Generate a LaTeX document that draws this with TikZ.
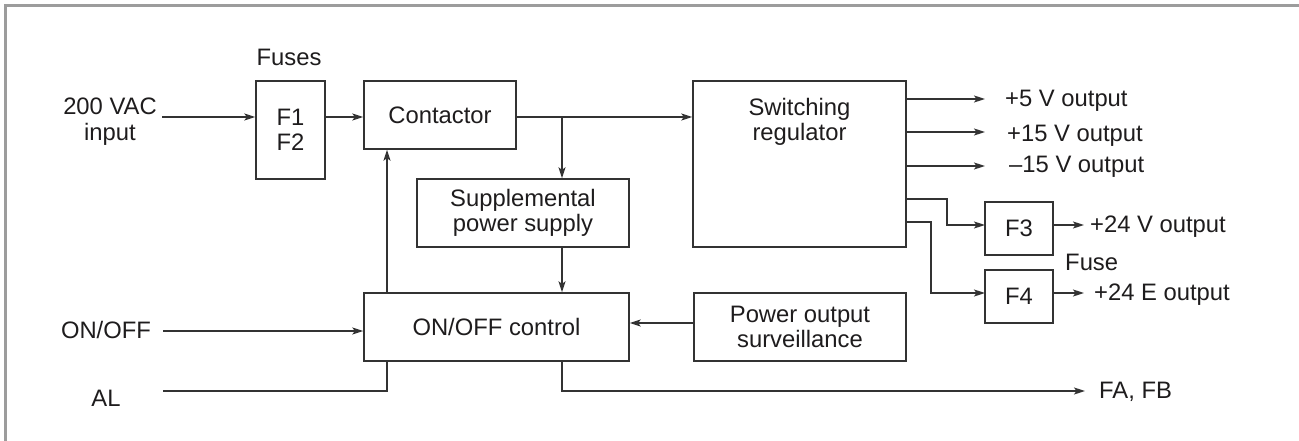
\documentclass[tikz,border=0pt]{standalone}
\usepackage{fontspec}
\setmainfont{Liberation Sans}
\usetikzlibrary{arrows.meta}
\definecolor{ln}{HTML}{333333}
\definecolor{tx}{HTML}{1E1C1D}
\definecolor{fr}{HTML}{9C9C9C}
\begin{document}
\begin{tikzpicture}[x=1pt,y=-1pt,
  every node/.style={font=\fontsize{23.8}{25.5}\selectfont, text=tx, inner sep=0pt},
  blk/.style 2 args={draw=ln, line width=1.4pt, align=center, minimum width=#1, minimum height=#2},
  conn/.style={draw=ln, line width=1.4pt},
  arr/.style={conn, -{Stealth[length=11pt,width=7pt,inset=2.5pt]}}]
\useasboundingbox (0,0) rectangle (1299,441);
\draw[fr, line width=2.5pt] (5.5,441) -- (5.5,5.5) -- (1299,5.5);

% blocks
\node[blk={69pt}{98pt}] (fz) at (290.5,130) {F1\\F2};
\node[blk={152pt}{68pt}] (ct) at (440,115) {Contactor};
\node[blk={212pt}{68pt}] (sp) at (523,213) {Supplemental\\power supply};
\node[blk={213pt}{166pt}] (rg) at (799.5,164) {};
\node[anchor=north, align=center] (rgt) at (799.5,98) {Switching\\regulator};
\node[blk={265pt}{68pt}] (oc) at (496.5,327) {ON/OFF control};
\node[blk={212pt}{68pt}] (po) at (800,327) {Power output\\surveillance};
\node[blk={68pt}{53pt}] (f3) at (1019,228.5) {F3};
\node[blk={68pt}{53pt}] (f4) at (1019,296.5) {F4};

% labels
\node[anchor=base] (fusesl) at (289,66) {Fuses};
\node[anchor=north, align=center] (inl) at (110,98) {200 VAC\\input};
\node[anchor=base] (onl) at (106,338) {ON/OFF};
\node[anchor=base] (all) at (106,406) {AL};
\node[anchor=base west] (o5) at (1005,107) {+5 V output};
\node[anchor=base west] (o15) at (1007,142) {+15 V output};
\node[anchor=base west] (om15) at (1009,172) {–15 V output};
\node[anchor=base west] (o24) at (1090,232) {+24 V output};
\node[anchor=base west] (fusel) at (1065,270) {Fuse};
\node[anchor=base west] (o24e) at (1094,300) {+24 E output};
\node[anchor=base west] (fafb) at (1099,398) {FA, FB};

% connectors
\coordinate (inS) at (162,117);
\coordinate (br) at (562,117);
\coordinate (cx) at (387,149);
\coordinate (onS) at (163,331);
\coordinate (alS) at (163,391);
\coordinate (faE) at (1085,391);
\coordinate (poy) at (700,323);
\coordinate (e5) at (985,99);
\coordinate (e15) at (985,132);
\coordinate (em15) at (985,166);
\coordinate (k3) at (947,199);
\coordinate (a3) at (985,225);
\coordinate (k4) at (931,222);
\coordinate (a4) at (985,293);
\coordinate (b3) at (1084,225);
\coordinate (b4) at (1084,293);

\draw[arr] (inS) -- (inS -| fz.west);
\draw[arr] (fz.east |- inS) -- (ct.west |- inS);
\draw[arr] (ct.east |- br) -- (rg.west |- br);
\draw[arr] (br) -- (br |- sp.north);
\draw[arr] (br |- sp.south) -- (br |- oc.north);
\draw[arr] (cx |- oc.north) -- (cx |- ct.south);
\draw[arr] (onS) -- (onS -| oc.west);
\draw[conn] (alS) -| (cx |- oc.south);
\draw[arr] (br |- oc.south) |- (faE);
\draw[arr] (po.west |- poy) -- (oc.east |- poy);
\draw[arr] (rg.east |- e5) -- (e5);
\draw[arr] (rg.east |- e15) -- (e15);
\draw[arr] (rg.east |- em15) -- (em15);
\draw[arr] (rg.east |- k3) -- (k3) |- (a3);
\draw[arr] (rg.east |- k4) -- (k4) |- (a4);
\draw[arr] (f3.east |- b3) -- (b3);
\draw[arr] (f4.east |- b4) -- (b4);
\end{tikzpicture}
\end{document}
